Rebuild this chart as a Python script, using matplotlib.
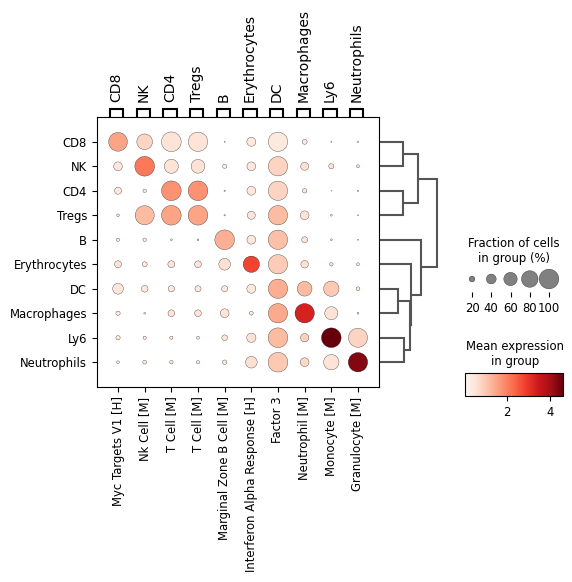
import numpy as np
import matplotlib
matplotlib.use("Agg")
import matplotlib.pyplot as plt
from matplotlib.path import Path
import matplotlib.patches as patches
import matplotlib.colors as mcolors
import matplotlib.colorbar as mcolorbar

# ---------------- data ----------------
groups = ["CD8", "NK", "CD4", "Tregs", "B", "Erythrocytes", "DC",
          "Macrophages", "Ly6", "Neutrophils"]
var_names = ["Myc Targets V1 [H]", "Nk Cell [M]", "T Cell [M]", "T Cell [M]",
             "Marginal Zone B Cell [M]", "Interferon Alpha Response [H]",
             "Factor 3", "Neutrophil [M]", "Monocyte [M]", "Granulocyte [M]"]
var_group_labels = ["CD8", "NK", "CD4", "Tregs", "B", "Erythrocytes", "DC",
                    "Macrophages", "Ly6", "Neutrophils"]

# fraction of cells in group (%)
frac_cd8 = [94, 74, 100, 98, 2, 35, 98, 16, 2, 3]
frac_nk = [34, 100, 64, 62, 13, 34, 98, 30, 17, 8]
frac_cd4 = [25, 10, 100, 100, 3, 34, 98, 14, 1, 3]
frac_tregs = [7, 96, 100, 100, 3, 30, 98, 34, 4, 2]
frac_b = [9, 10, 4, 4, 100, 34, 98, 21, 4, 2]
frac_ery = [25, 16, 25, 24, 50, 78, 98, 28, 10, 8]
frac_dc = [45, 24, 22, 21, 21, 35, 98, 68, 72, 11]
frac_mac = [13, 4, 24, 24, 34, 11, 98, 98, 58, 4]
frac_ly6 = [13, 9, 9, 8, 19, 37, 100, 32, 100, 96]
frac_neut = [7, 11, 10, 9, 14, 50, 100, 34, 72, 98]

# mean expression in group
expr_cd8 = [1.5, 0.75, 0.5, 0.5, 0.3, 0.35, 0.35, 0.3, 0.05, 0.2]
expr_nk = [0.4, 2.1, 0.5, 0.55, 0.2, 0.4, 0.8, 0.6, 0.5, 0.4]
expr_cd4 = [0.4, 0.3, 1.75, 1.75, 0.3, 0.4, 0.8, 0.4, 0.01, 0.2]
expr_tregs = [0.3, 1.15, 1.5, 1.5, 0.3, 0.45, 1.15, 0.5, 0.3, 0.3]
expr_b = [0.3, 0.3, 0.3, 0.3, 1.33, 0.4, 1.1, 0.5, 0.3, 0.2]
expr_ery = [0.5, 0.4, 0.5, 0.5, 0.6, 2.8, 0.9, 0.55, 0.4, 0.4]
expr_dc = [0.45, 0.4, 0.4, 0.4, 0.35, 0.4, 1.35, 1.15, 0.95, 0.4]
expr_mac = [0.35, 0.3, 0.5, 0.5, 0.5, 0.35, 1.4, 3.3, 0.55, 0.3]
expr_ly6 = [0.35, 0.3, 0.3, 0.3, 0.45, 0.55, 1.15, 0.85, 4.62, 0.8]
expr_neut = [0.3, 0.35, 0.3, 0.3, 0.35, 0.6, 0.95, 0.7, 0.5, 4.35]

# dendrogram merges: (child_a, child_b, height) ; leaves are 0..9 in row order
dendro_merges = [
    (0, 1, 0.394),
    (2, 3, 0.394),
    (6, 7, 0.306),
    (8, 9, 0.412),
    (12, 13, 0.523),
    (5, 14, 0.541),
    (4, 15, 0.717),
    (10, 11, 0.664),
    (17, 16, 1.0),
]

size_legend_values = [20, 40, 60, 80, 100]

# ---------------- drawing ----------------
frac = np.array([frac_cd8, frac_nk, frac_cd4, frac_tregs, frac_b, frac_ery,
                 frac_dc, frac_mac, frac_ly6, frac_neut], dtype=float) / 100.0
expr = np.array([expr_cd8, expr_nk, expr_cd4, expr_tregs, expr_b, expr_ery,
                 expr_dc, expr_mac, expr_ly6, expr_neut], dtype=float)

W, H = 572, 582
fig = plt.figure(figsize=(W / 100, H / 100), dpi=100)


def px_axes(x0, y0, x1, y1):
    """axes from pixel box (top-left origin)"""
    return fig.add_axes([x0 / W, 1 - y1 / H, (x1 - x0) / W, (y1 - y0) / H])


largest_dot, smallest_dot, size_exponent = 200.0, 0.0, 1.5
dot_max, dot_min = 1.0, 0.0
cmap = plt.get_cmap("Reds")
norm = mcolors.Normalize(vmin=expr.min(), vmax=expr.max())

n_rows, n_cols = frac.shape
x_pad, y_pad = 0.8 - 0.5, 1.0 - 0.5

ax = px_axes(96.7, 117.3, 379.3, 386.7)
yy, xx = np.indices(frac.shape)
fr = np.clip((frac.ravel() - dot_min) / (dot_max - dot_min), 0, 1)
sizes = fr ** size_exponent * (largest_dot - smallest_dot) + smallest_dot
ax.scatter(xx.ravel() + 0.5, yy.ravel() + 0.5, s=sizes, c=expr.ravel(),
           cmap=cmap, norm=norm, edgecolor="black", linewidth=0.2, zorder=3)
ax.set_xlim(-x_pad, n_cols + x_pad)
ax.set_ylim(n_rows + y_pad, -y_pad)
ax.set_xticks(np.arange(n_cols) + 0.5)
ax.set_xticklabels(var_names, rotation=90, fontsize="small")
ax.set_yticks(np.arange(n_rows) + 0.5)
ax.set_yticklabels(groups, fontsize="small")
ax.grid(False)

# var group brackets
gax = px_axes(96.7, 103.5, 379.3, 116.8)
gax.set_xlim(ax.get_xlim())
gax.set_ylim(0, 1)
verts, codes = [], []
for i, lab in enumerate(var_group_labels):
    left, right = i + 0.2, i + 0.7
    verts += [(left, 0), (left, 0.6), (right, 0.6), (right, 0)]
    codes += [Path.MOVETO, Path.LINETO, Path.LINETO, Path.LINETO]
    gax.text(left + (right - left) / 2, 1.1, lab, ha="center", va="bottom",
             rotation=90, fontsize=10)
gax.add_patch(patches.PathPatch(Path(verts, codes), facecolor="none", lw=1.5,
                                clip_on=False))
gax.axis("off")

# dendrogram
dax = px_axes(380.7, 117.3, 437.3, 386.7)
dax.set_ylim(ax.get_ylim())
dax.set_xlim(0, 1.0)
node_y = {i: i + 0.5 for i in range(n_rows)}
node_h = {i: 0.0 for i in range(n_rows)}
for k, (a, b, h) in enumerate(dendro_merges):
    nid = n_rows + k
    dax.plot([node_h[a], h, h, node_h[b]], [node_y[a], node_y[a], node_y[b], node_y[b]],
             color="#555555", lw=1.5, clip_on=False, solid_joinstyle="miter")
    node_y[nid] = (node_y[a] + node_y[b]) / 2
    node_h[nid] = h
dax.axis("off")

# size legend
sax = px_axes(461, 266, 562, 292)
lv = np.array(size_legend_values) / 100.0
lsize = ((lv - dot_min) / (dot_max - dot_min)) ** size_exponent * (largest_dot - smallest_dot) + smallest_dot
pos = np.arange(len(lv))
sax.scatter(pos, np.zeros(len(lv)), s=lsize, color="gray", edgecolor="black",
            linewidth=0.2, zorder=100, clip_on=False)
sax.set_xticks(pos)
sax.set_xticklabels([str(v) for v in size_legend_values], fontsize="small")
sax.tick_params(axis="y", left=False, labelleft=False)
for sp in sax.spines.values():
    sp.set_visible(False)
sax.set_xlim(-(472 - 461) / 19.25, 4 + (562 - 549) / 19.25)
sax.set_ylim(-1, 1)
fig.text(513.5 / W, 1 - 265 / H, "Fraction of cells\nin group (%)", ha="center",
         va="bottom", fontsize="small", linespacing=1.2)

# colorbar
cax = px_axes(465, 373, 563, 396)
cb = mcolorbar.Colorbar(cax, orientation="horizontal", cmap=cmap, norm=norm)
cb.set_ticks([2, 4])
cax.tick_params(labelsize="small")
fig.text(515 / W, 1 - 368 / H, "Mean expression\nin group", ha="center",
         va="bottom", fontsize="small", linespacing=1.2)

fig.savefig("out.png", dpi=100)
